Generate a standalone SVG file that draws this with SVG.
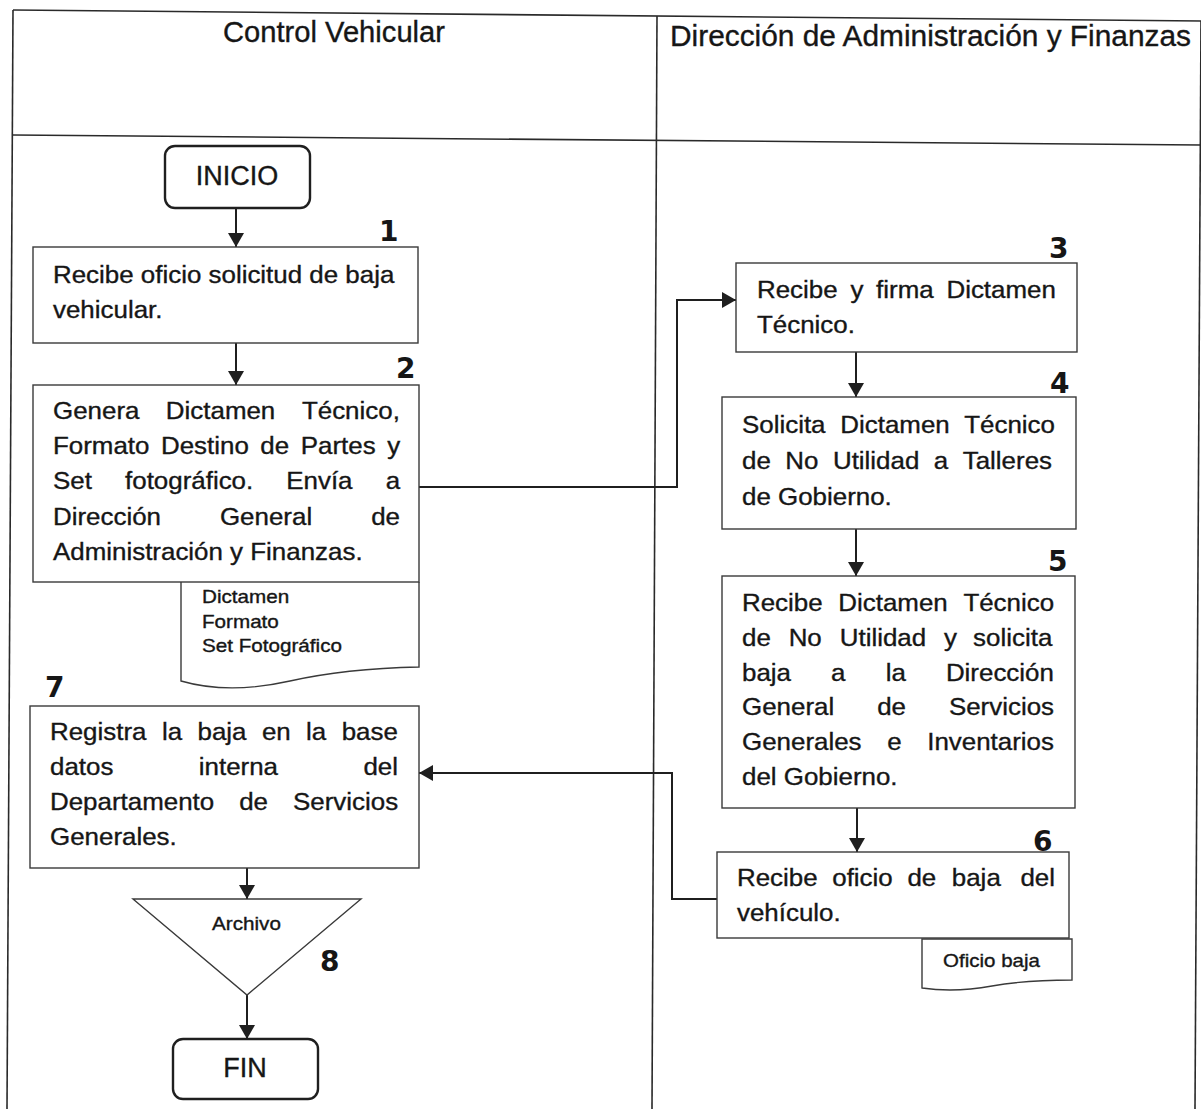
<svg xmlns="http://www.w3.org/2000/svg" width="1201" height="1109" viewBox="0 0 1201 1109">
  <style>
    text { font-family: "Liberation Sans", Arial, sans-serif; fill: #161616; stroke: #161616; stroke-width: 0.35; }
    .hd { font-size: 29px; }
    .tx { font-size: 24px; }
    .sm { font-size: 17.5px; }
    .term { font-size: 27px; text-anchor: middle; }
    .num { font-family: "DejaVu Sans", sans-serif; font-weight: bold; font-size: 28px; stroke-width: 0; }
    .frame { stroke: #2a2a2a; stroke-width: 1.6; fill: none; }
    .box { fill: #ffffff; stroke: #3a3a3a; stroke-width: 1.4; }
    .rbox { fill: #ffffff; stroke: #1f1f1f; stroke-width: 2.4; }
    .conn { fill: none; stroke: #1f1f1f; stroke-width: 2; }
  </style>
  <defs>
    <marker id="arrow" viewBox="0 0 14 16" refX="14" refY="8" markerWidth="14" markerHeight="16" markerUnits="userSpaceOnUse" orient="auto">
      <path d="M0,0 L14,8 L0,16 z" fill="#1f1f1f"/>
    </marker>
  </defs>

  <rect x="0" y="0" width="1201" height="1109" fill="#ffffff"/>

  <!-- swimlane frame -->
  <g id="lanes">
    <path class="frame" d="M13,10 L1201,21"/>
    <path class="frame" d="M13,135 L1201,145"/>
    <path class="frame" d="M13,10 L7,1109"/>
    <path class="frame" d="M657,16 L652,1109"/>
    <path class="frame" d="M1201,21 L1195,1109"/>
    <text class="hd" x="223" y="42" textLength="222" lengthAdjust="spacingAndGlyphs">Control Vehicular</text>
    <text class="hd" x="670" y="46" textLength="521" lengthAdjust="spacingAndGlyphs">Dirección de Administración y Finanzas</text>
  </g>

  <!-- connectors -->
  <g id="connectors">
    <path class="conn" d="M236,208 V247" marker-end="url(#arrow)"/>
    <path class="conn" d="M236,343 V385" marker-end="url(#arrow)"/>
    <path class="conn" d="M419,487 H677 V300 H736" marker-end="url(#arrow)"/>
    <path class="conn" d="M856,352 V397" marker-end="url(#arrow)"/>
    <path class="conn" d="M856,529 V576" marker-end="url(#arrow)"/>
    <path class="conn" d="M857,808 V852" marker-end="url(#arrow)"/>
    <path class="conn" d="M717,899 H672 V773 H419" marker-end="url(#arrow)"/>
    <path class="conn" d="M247,868 V899" marker-end="url(#arrow)"/>
    <path class="conn" d="M247,995 V1039" marker-end="url(#arrow)"/>
  </g>

  <g id="inicio">
    <rect class="rbox" x="165" y="146" width="145" height="62" rx="10"/>
    <text class="term" x="237" y="185">INICIO</text>
  </g>

  <g id="step1">
    <text class="num" x="379" y="241">1</text>
    <rect class="box" x="33" y="247" width="385" height="96"/>
    <text class="tx" transform="translate(53,0) scale(1.08,1)">
      <tspan x="0" y="283">Recibe oficio solicitud de baja</tspan>
      <tspan x="0" y="318">vehicular.</tspan>
    </text>
  </g>

  <g id="doc-dictamen">
    <path class="box" d="M181,582 V681 C212,690 250,690 290,681 C330,672 375,668 419,667 V582"/>
    <text class="sm" transform="translate(202,0) scale(1.18,1)">
      <tspan x="0" y="603">Dictamen</tspan>
      <tspan x="0" y="628">Formato</tspan>
      <tspan x="0" y="652">Set Fotográfico</tspan>
    </text>
  </g>

  <g id="step2">
    <text class="num" x="396" y="378">2</text>
    <rect class="box" x="33" y="385" width="386" height="197"/>
    <text class="tx" transform="translate(53,0) scale(1.08,1)">
      <tspan x="0" y="419">Genera</tspan><tspan x="104.5" y="419">Dictamen</tspan><tspan x="230.5" y="419">Técnico,</tspan>
      <tspan x="0" y="454">Formato</tspan><tspan x="100" y="454">Destino</tspan><tspan x="192" y="454">de</tspan><tspan x="229.4" y="454">Partes</tspan><tspan x="309.4" y="454">y</tspan>
      <tspan x="0" y="489">Set</tspan><tspan x="66.7" y="489">fotográfico.</tspan><tspan x="216" y="489">Envía</tspan><tspan x="308.1" y="489">a</tspan>
      <tspan x="0" y="525">Dirección</tspan><tspan x="154.6" y="525">General</tspan><tspan x="294.6" y="525">de</tspan>
      <tspan x="0" y="560">Administración y Finanzas.</tspan>
    </text>
  </g>

  <g id="step3">
    <text class="num" x="1049" y="258">3</text>
    <rect class="box" x="736" y="263" width="341" height="89"/>
    <text class="tx" transform="translate(757,0) scale(1.08,1)">
      <tspan x="0" y="298">Recibe</tspan><tspan x="86.5" y="298">y</tspan><tspan x="110.3" y="298">firma</tspan><tspan x="175.4" y="298">Dictamen</tspan>
      <tspan x="0" y="333">Técnico.</tspan>
    </text>
  </g>

  <g id="step4">
    <text class="num" x="1050" y="393">4</text>
    <rect class="box" x="722" y="397" width="354" height="132"/>
    <text class="tx" transform="translate(742,0) scale(1.08,1)">
      <tspan x="0" y="433">Solicita</tspan><tspan x="91" y="433">Dictamen</tspan><tspan x="205.8" y="433">Técnico</tspan>
      <tspan x="0" y="469">de</tspan><tspan x="40.1" y="469">No</tspan><tspan x="84.2" y="469">Utilidad</tspan><tspan x="177.6" y="469">a</tspan><tspan x="204.4" y="469">Talleres</tspan>
      <tspan x="0" y="505">de Gobierno.</tspan>
    </text>
  </g>

  <g id="step5">
    <text class="num" x="1048" y="571">5</text>
    <rect class="box" x="722" y="576" width="353" height="232"/>
    <text class="tx" transform="translate(742,0) scale(1.08,1)">
      <tspan x="0" y="611">Recibe</tspan><tspan x="89.2" y="611">Dictamen</tspan><tspan x="205" y="611">Técnico</tspan>
      <tspan x="0" y="646">de</tspan><tspan x="43.2" y="646">No</tspan><tspan x="90.5" y="646">Utilidad</tspan><tspan x="187" y="646">y</tspan><tspan x="214" y="646">solicita</tspan>
      <tspan x="0" y="681">baja</tspan><tspan x="82.5" y="681">a</tspan><tspan x="133" y="681">la</tspan><tspan x="188.8" y="681">Dirección</tspan>
      <tspan x="0" y="715">General</tspan><tspan x="125.2" y="715">de</tspan><tspan x="191.6" y="715">Servicios</tspan>
      <tspan x="0" y="750">Generales</tspan><tspan x="134.4" y="750">e</tspan><tspan x="171.5" y="750">Inventarios</tspan>
      <tspan x="0" y="785">del Gobierno.</tspan>
    </text>
  </g>

  <g id="step6">
    <text class="num" x="1033" y="851">6</text>
    <rect class="box" x="717" y="852" width="352" height="86"/>
    <text class="tx" transform="translate(737,0) scale(1.08,1)">
      <tspan x="0" y="886">Recibe</tspan><tspan x="88.2" y="886">oficio</tspan><tspan x="157.8" y="886">de</tspan><tspan x="198.9" y="886">baja</tspan><tspan x="262.4" y="886">del</tspan>
      <tspan x="0" y="921">vehículo.</tspan>
    </text>
  </g>

  <g id="doc-oficio">
    <path class="box" d="M922,939 H1072 V980 C1045,980 1020,981 992,986 C965,991 942,991 922,988 Z"/>
    <text class="sm" transform="translate(943,0) scale(1.14,1)" x="0" y="967" style="font-size:18px">Oficio baja</text>
  </g>

  <g id="step7">
    <text class="num" x="45" y="697">7</text>
    <rect class="box" x="30" y="706" width="389" height="162"/>
    <text class="tx" transform="translate(50,0) scale(1.08,1)">
      <tspan x="0" y="740">Registra</tspan><tspan x="103.6" y="740">la</tspan><tspan x="136.6" y="740">baja</tspan><tspan x="196.2" y="740">en</tspan><tspan x="237.1" y="740">la</tspan><tspan x="270.1" y="740">base</tspan>
      <tspan x="0" y="775">datos</tspan><tspan x="137.8" y="775">interna</tspan><tspan x="290.2" y="775">del</tspan>
      <tspan x="0" y="810">Departamento</tspan><tspan x="175.2" y="810">de</tspan><tspan x="225" y="810">Servicios</tspan>
      <tspan x="0" y="845">Generales.</tspan>
    </text>
  </g>

  <g id="step8">
    <polygon class="box" points="133,899 361,899 247,995"/>
    <text class="sm" transform="translate(246.5,0) scale(1.18,1)" x="0" y="930" text-anchor="middle">Archivo</text>
    <text class="num" x="320" y="971">8</text>
  </g>

  <g id="fin">
    <rect class="rbox" x="173" y="1039" width="145" height="60" rx="10"/>
    <text class="term" x="245" y="1077">FIN</text>
  </g>
</svg>
